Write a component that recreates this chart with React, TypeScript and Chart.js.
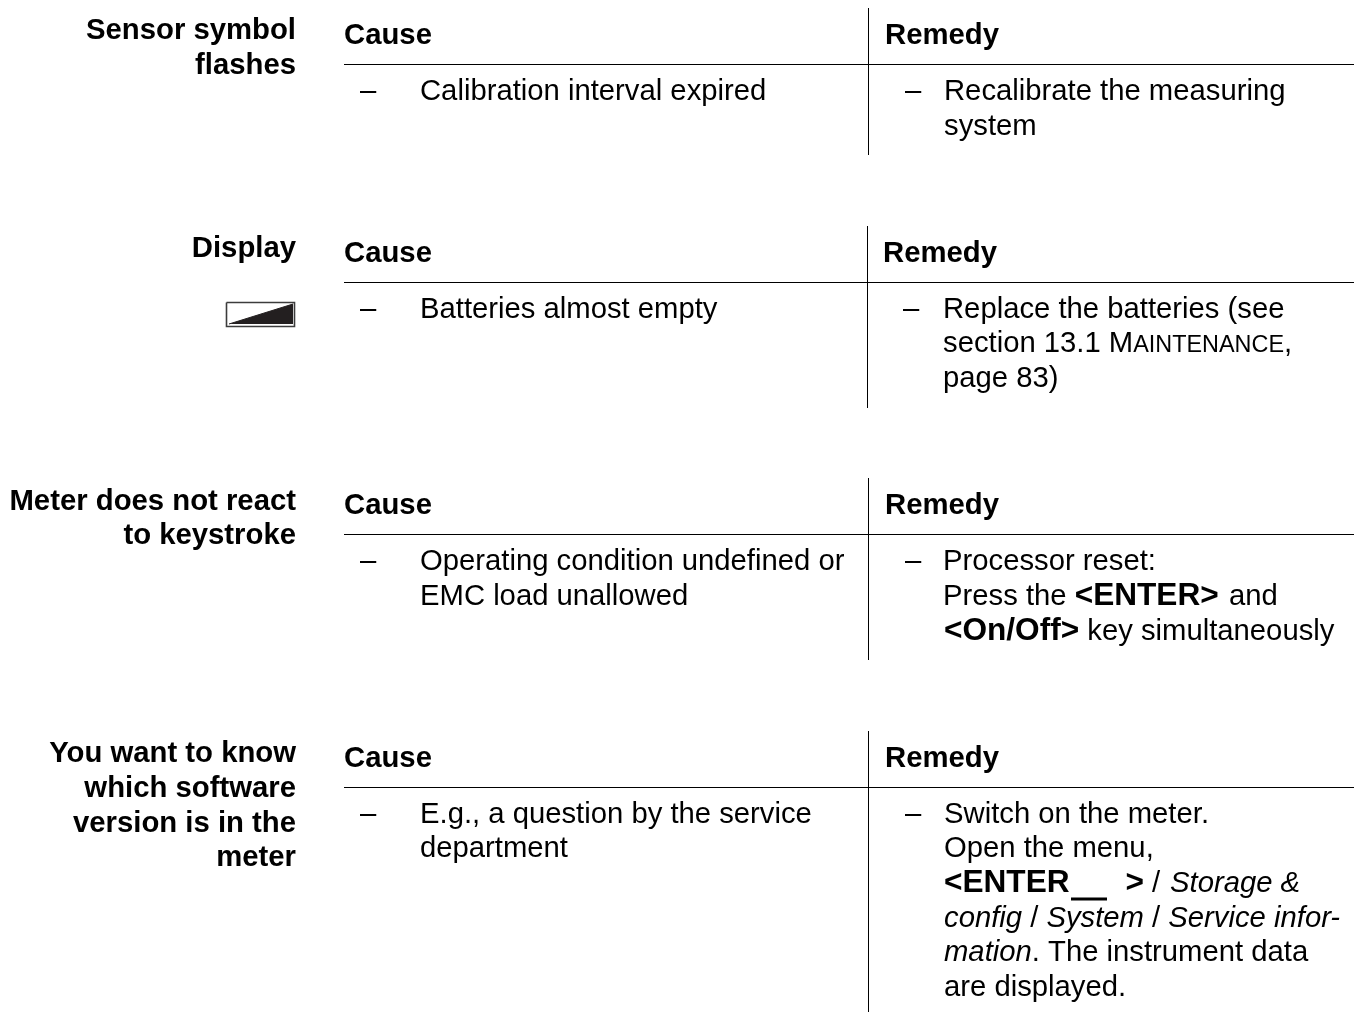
import React, { useEffect, useRef } from "react";
import { Chart, registerables } from "chart.js";

Chart.register(...registerables);

type Span = [string, string];
type Line = { x: number; y: number; spans: Span[]; right?: boolean };

const sideHeadings: Line[] = [
  { x: 296, y: 39, right: true, spans: [["Sensor symbol", "b"]] },
  { x: 296, y: 74, right: true, spans: [["flashes", "b"]] },
  { x: 296, y: 257, right: true, spans: [["Display", "b"]] },
  { x: 296, y: 510, right: true, spans: [["Meter does not react", "b"]] },
  { x: 296, y: 544, right: true, spans: [["to keystroke", "b"]] },
  { x: 296, y: 762, right: true, spans: [["You want to know", "b"]] },
  { x: 296, y: 797, right: true, spans: [["which software", "b"]] },
  { x: 296, y: 832, right: true, spans: [["version is in the", "b"]] },
  { x: 296, y: 866, right: true, spans: [["meter", "b"]] },
];

const tableHeads: Line[] = [
  { x: 344, y: 44, spans: [["Cause", "b"]] },
  { x: 885, y: 44, spans: [["Remedy", "b"]] },
  { x: 344, y: 262, spans: [["Cause", "b"]] },
  { x: 883, y: 262, spans: [["Remedy", "b"]] },
  { x: 344, y: 514, spans: [["Cause", "b"]] },
  { x: 885, y: 514, spans: [["Remedy", "b"]] },
  { x: 344, y: 767, spans: [["Cause", "b"]] },
  { x: 885, y: 767, spans: [["Remedy", "b"]] },
];

const causeLines: Line[] = [
  { x: 360, y: 100, spans: [["–", "r"]] },
  { x: 420, y: 100, spans: [["Calibration interval expired", "r"]] },
  { x: 360, y: 318, spans: [["–", "r"]] },
  { x: 420, y: 318, spans: [["Batteries almost empty", "r"]] },
  { x: 360, y: 570, spans: [["–", "r"]] },
  { x: 420, y: 570, spans: [["Operating condition undefined or", "r"]] },
  { x: 420, y: 605, spans: [["EMC load unallowed", "r"]] },
  { x: 360, y: 823, spans: [["–", "r"]] },
  { x: 420, y: 823, spans: [["E.g., a question by the service", "r"]] },
  { x: 420, y: 857, spans: [["department", "r"]] },
];

const remedyLines: Line[] = [
  { x: 905, y: 100, spans: [["–", "r"]] },
  { x: 944, y: 100, spans: [["Recalibrate the measuring", "r"]] },
  { x: 944, y: 135, spans: [["system", "r"]] },
  { x: 903, y: 318, spans: [["–", "r"]] },
  { x: 943, y: 318, spans: [["Replace the batteries (see", "r"]] },
  { x: 943, y: 352, spans: [["section 13.1 M", "r"], ["AINTENANCE", "s"], [",", "r"]] },
  { x: 943, y: 387, spans: [["page 83)", "r"]] },
  { x: 905, y: 570, spans: [["–", "r"]] },
  { x: 943, y: 570, spans: [["Processor reset:", "r"]] },
  { x: 943, y: 605, spans: [["Press the ", "r"], ["<ENTER>", "k"]] },
  { x: 1229, y: 605, spans: [["and", "r"]] },
  { x: 944, y: 640, spans: [["<On/Off>", "k"], [" key simultaneously", "r"]] },
  { x: 905, y: 823, spans: [["–", "r"]] },
  { x: 944, y: 823, spans: [["Switch on the meter.", "r"]] },
  { x: 944, y: 857, spans: [["Open the menu,", "r"]] },
  { x: 944, y: 892, spans: [["<ENTER", "k"]] },
  { x: 1125.5, y: 892, spans: [[">", "k"]] },
  { x: 1152, y: 892, spans: [["/", "r"]] },
  { x: 1170, y: 892, spans: [["Storage &", "i"]] },
  { x: 944, y: 927, spans: [["config", "i"], [" / ", "r"], ["System", "i"], [" / ", "r"], ["Service infor-", "i"]] },
  { x: 944, y: 961, spans: [["mation", "i"], [". The instrument data", "r"]] },
  { x: 944, y: 996, spans: [["are displayed.", "r"]] },
];

const horizontalRuleRows = [64.5, 282.5, 534.5, 787.5];
const ruleStart = 344;
const ruleEnd = 1354;
const verticalRules: [number, number, number][] = [
  [868.5, 8, 155],
  [867.5, 226, 408],
  [868.5, 478, 660],
  [868.5, 731, 1012],
];
const keyBlank = [
  { x: 1071, y: 899 },
  { x: 1107, y: 899 },
];
const iconFrame = [
  { x: 226.5, y: 302.5 },
  { x: 294.5, y: 302.5 },
  { x: 294.5, y: 326.5 },
  { x: 226.5, y: 326.5 },
  { x: 226.5, y: 302.5 },
];
const iconWedge = [
  { x: 229, y: 324 },
  { x: 293, y: 304 },
];

const FAMILY = '"Liberation Sans", Arial, sans-serif';
const fonts: Record<string, string> = {
  r: `29.25px ${FAMILY}`,
  b: `bold 29.3px ${FAMILY}`,
  k: `bold 31.6px ${FAMILY}`,
  i: `italic 29.25px ${FAMILY}`,
  s: `23.4px ${FAMILY}`,
};

const textPlugin = {
  id: "pageText",
  afterDatasetsDraw(chart: any) {
    const { ctx, scales } = chart;
    ctx.save();
    ctx.fillStyle = "#000";
    ctx.textBaseline = "alphabetic";
    ctx.textAlign = "left";
    for (const line of [...sideHeadings, ...tableHeads, ...causeLines, ...remedyLines]) {
      const widths = line.spans.map(([t, s]) => {
        ctx.font = fonts[s];
        return ctx.measureText(t).width;
      });
      const total = widths.reduce((a: number, b: number) => a + b, 0);
      let px = scales.x.getPixelForValue(line.x) - (line.right ? total : 0);
      const py = scales.y.getPixelForValue(line.y);
      line.spans.forEach(([t, s], i) => {
        ctx.font = fonts[s];
        ctx.fillText(t, px, py);
        px += widths[i];
      });
    }
    ctx.restore();
  },
};

export default function App() {
  const ref = useRef<HTMLCanvasElement>(null);
  useEffect(() => {
    if (!ref.current) return;
    const rule = (data: { x: number; y: number }[]) => ({
      data,
      borderColor: "#000",
      borderWidth: 1,
      pointRadius: 0,
      showLine: true,
      fill: false,
      tension: 0,
    });
    const chart = new Chart(ref.current, {
      type: "scatter",
      data: {
        datasets: [
          ...horizontalRuleRows.map((y) => rule([{ x: ruleStart, y }, { x: ruleEnd, y }])),
          ...verticalRules.map(([x, a, b]) => rule([{ x, y: a }, { x, y: b }])),
          { ...rule(keyBlank), borderWidth: 3 },
          { ...rule(iconFrame), borderColor: "#3c3c3c", borderWidth: 1.6 },
          {
            ...rule(iconWedge),
            borderColor: "#231f20",
            backgroundColor: "#231f20",
            fill: { target: { value: 324 } },
          },
        ] as any,
      },
      options: {
        animation: false,
        responsive: false,
        layout: { padding: 0 },
        plugins: { legend: { display: false }, tooltip: { enabled: false } },
        scales: {
          x: { type: "linear", min: 0, max: 1359, display: false },
          y: { type: "linear", min: 0, max: 1012, reverse: true, display: false },
        },
      },
      plugins: [textPlugin],
    });
    return () => chart.destroy();
  }, []);
  return (
    <canvas
      ref={ref}
      width={1359}
      height={1012}
      style={{ position: "absolute", left: 0, top: 0, width: 1359, height: 1012, background: "#fff" }}
    />
  );
}
